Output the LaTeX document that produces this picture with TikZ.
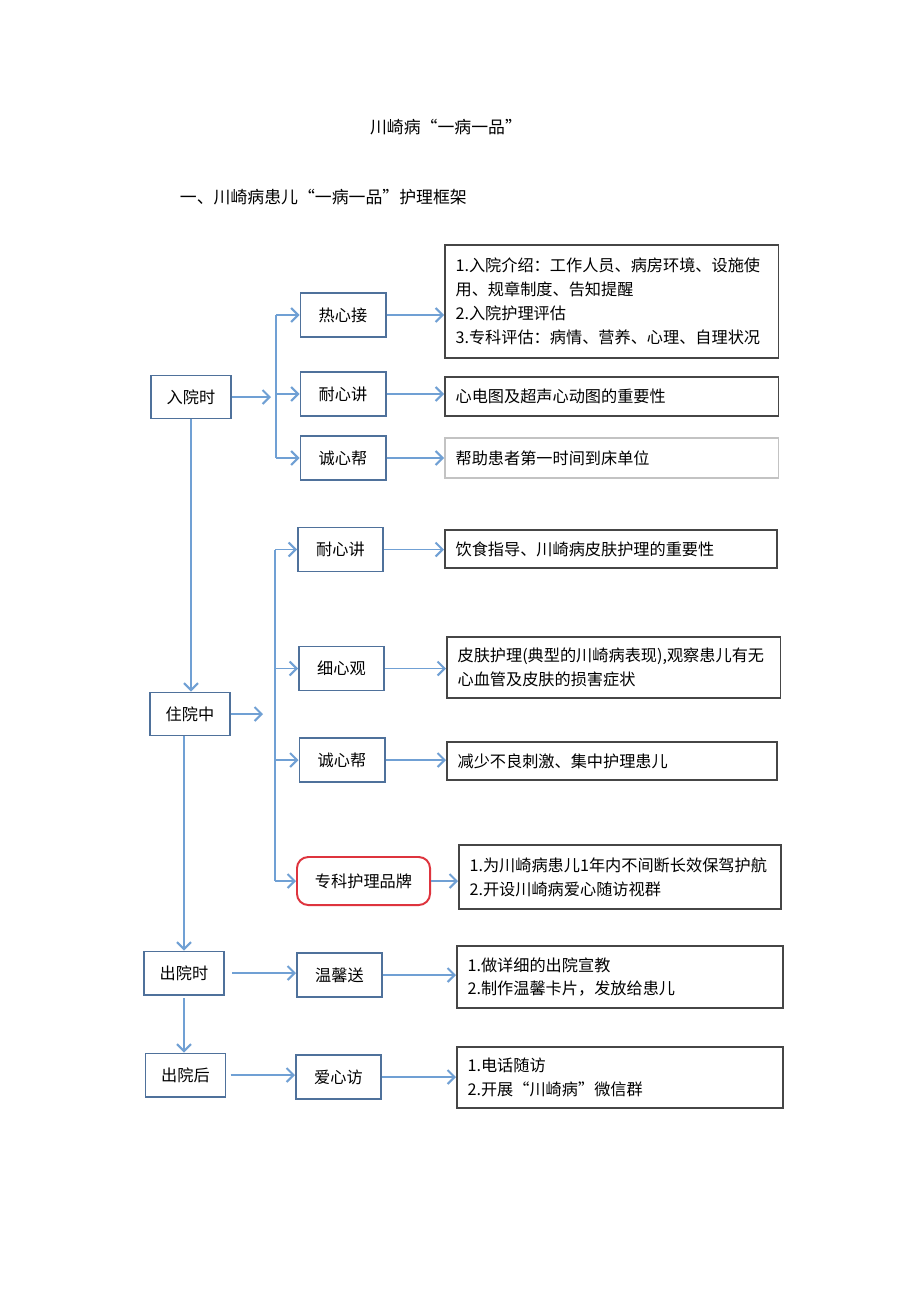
\documentclass[tikz,border=0pt]{standalone}
\usepackage{fontspec}
\setmainfont{Noto Sans CJK SC}
\usetikzlibrary{arrows.meta, positioning}
\definecolor{stageblue}{RGB}{79,113,155}
\definecolor{flowblue}{RGB}{112,160,212}
\definecolor{notegray}{RGB}{70,70,70}
\definecolor{faintgray}{RGB}{195,195,195}
\definecolor{brandred}{RGB}{222,52,62}
\tikzset{
  stage/.style={draw=stageblue, line width=1.4pt, minimum width=2cm, minimum height=1.075cm, font=\fontsize{11.5}{14}\selectfont},
  act/.style={stage, minimum width=2.125cm, minimum height=1.1cm},
  note/.style={draw=notegray, line width=1.1pt, anchor=west, text width=7.8cm, inner xsep=0.27cm, align=left, font=\fontsize{11.5}{17}\selectfont},
  flow/.style={draw=flowblue, line width=1.4pt, -{Straight Barb[length=5pt,width=10pt]}},
  link/.style={draw=flowblue, line width=1.4pt},
  heading/.style={font=\fontsize{12}{14}\selectfont},
}

\begin{document}
\begin{tikzpicture}[x=0.025cm, y=-0.025cm]
            \fill[white] (0,0) rectangle (920,1301);
            \useasboundingbox (0,0) rectangle (920,1301);
            \node[heading] (title) at (446,127) {川崎病“一病一品”};
            \node[heading, anchor=west] (head) at (175,197) {一、川崎病患儿“一病一品”护理框架};

            \node[stage] (ry) at (191,397) {入院时};
            \node[act] (rx) at (343,315) {热心接};
            \node[act] (rn) at (343,394) {耐心讲};
            \node[act] (rc) at (343,458) {诚心帮};
            \node[note, minimum height=2.825cm] (rxn) at (444,301.5) {1.入院介绍：工作人员、病房环境、设施使\\用、规章制度、告知提醒\\2.入院护理评估\\3.专科评估：病情、营养、心理、自理状况};
            \node[note, minimum height=0.975cm] (rnn) at (444,396.5) {心电图及超声心动图的重要性};
            \node[note, draw=faintgray, minimum height=1cm] (rcn) at (444,458) {帮助患者第一时间到床单位};

            \node[stage] (zy) at (190,714) {住院中};
            \node[act] (zn) at (340.5,549.5) {耐心讲};
            \node[act] (zg) at (341.5,668.5) {细心观};
            \node[act] (zc) at (342,760) {诚心帮};
            \node[act, draw=brandred, rounded corners=8pt, minimum width=3.325cm, minimum height=1.2cm] (zp) at (363.5,881) {专科护理品牌};
            \node[note, text width=7.76cm, minimum height=0.95cm] (znn) at (444,549) {饮食指导、川崎病皮肤护理的重要性};
            \node[note, minimum height=1.525cm] (zgn) at (446,667.5) {皮肤护理(典型的川崎病表现),观察患儿有无\\心血管及皮肤的损害症状};
            \node[note, text width=7.71cm, minimum height=0.95cm] (zcn) at (446,761) {减少不良刺激、集中护理患儿};
            \node[note, text width=7.51cm, minimum height=1.6cm] (zpn) at (458,877) {1.为川崎病患儿1年内不间断长效保驾护航\\2.开设川崎病爱心随访视群};

            \node[stage] (cy) at (184,973) {出院时};
            \node[act] (cw) at (339.5,975) {温馨送};
            \node[note, text width=7.61cm, minimum height=1.55cm] (cwn) at (456,977) {1.做详细的出院宣教\\2.制作温馨卡片，发放给患儿};
            \node[stage] (ch) at (185.5,1075) {出院后};
            \node[act] (ca) at (338.5,1077) {爱心访};
            \node[note, text width=7.61cm, minimum height=1.525cm] (can) at (456,1077.5) {1.电话随访\\2.开展“川崎病”微信群};

            \coordinate (j1) at (276,397);
            \coordinate (j1a) at (271,397);
            \coordinate (j2) at (275,714);
            \coordinate (j2a) at (263,714);

            \draw[flow] (ry.east) -- (j1a);
            \draw[link] (rx.west -| j1) -- (rc.west -| j1);
            \foreach \b in {rx,rn,rc} \draw[flow] (\b.west -| j1) -- (\b.west);
            \draw[flow] (rx.east) -- (rx.east -| rxn.west);
            \draw[flow] (rn.east) -- (rn.east -| rnn.west);
            \draw[flow] (rc.east) -- (rc.east -| rcn.west);

            \draw[flow] (ry.south) -- (ry.south |- zy.north);
            \draw[flow] (zy.east) -- (j2a);
            \draw[link] (zn.west -| j2) -- (zp.west -| j2);
            \foreach \b in {zn,zg,zc,zp} \draw[flow] (\b.west -| j2) -- (\b.west);
            \draw[flow] (zn.east) -- (zn.east -| znn.west);
            \draw[flow] (zg.east) -- (zg.east -| zgn.west);
            \draw[flow] (zc.east) -- (zc.east -| zcn.west);
            \draw[flow] (zp.east) -- (zp.east -| zpn.west);

            \draw[flow] (zy.south -| cy) -- (cy.north);
            \draw[flow, shorten <=5pt] (cy.east) -- (cy.east -| cw.west);
            \draw[flow] (cw.east) -- (cw.east -| cwn.west);
            \draw[flow, shorten <=2pt] (cy.south) -- (cy.south |- ch.north);
            \draw[flow, shorten <=3pt] (ch.east) -- (ch.east -| ca.west);
            \draw[flow] (ca.east) -- (ca.east -| can.west);
\end{tikzpicture}
\end{document}
